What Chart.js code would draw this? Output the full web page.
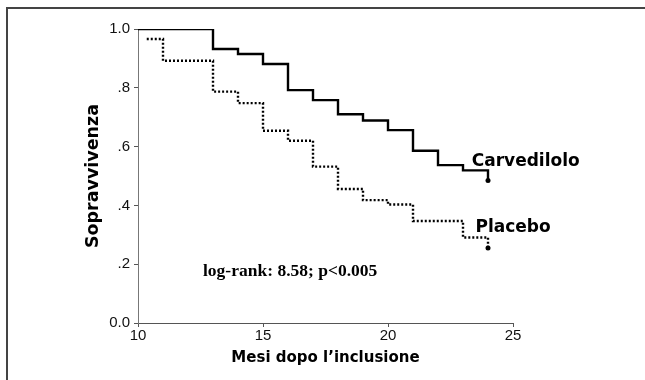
<!DOCTYPE html>
<html>
<head>
<meta charset="utf-8">
<script src="https://cdn.jsdelivr.net/npm/chart.js@4/dist/chart.umd.min.js"></script>
<style>
  html, body { margin: 0; padding: 0; background: #fff; overflow: hidden; }
  #wrap { position: relative; width: 645px; height: 380px; overflow: hidden; }
  #frame { position: absolute; left: 6px; top: 7px; width: 800px; height: 500px; border: 2px solid #444; }
  #grafico { position: absolute; left: 0; top: 0; }
</style>
</head>
<body>
<div id="wrap">
  <div id="frame"></div>
  <canvas id="grafico" width="645" height="380"></canvas>
</div>
<script>
// dati (Kaplan-Meier)
const mesiCarvedilolo = [10, 13, 14, 15, 16, 17, 18, 19, 20, 21, 22, 23, 24];
const sopravCarvedilolo = [1.0, 0.932, 0.915, 0.881, 0.792, 0.758, 0.71, 0.689, 0.656, 0.586, 0.537, 0.519, 0.485];

const mesiPlacebo = [10.35, 11, 13, 14, 15, 16, 17, 18, 19, 20, 21, 23, 24];
const sopravPlacebo = [0.966, 0.892, 0.787, 0.748, 0.654, 0.62, 0.532, 0.456, 0.418, 0.403, 0.347, 0.291, 0.255];

const tickY = [0, 0.2, 0.4, 0.6, 0.8, 1.0];
const etichetteY = ["0.0", ".2", ".4", ".6", ".8", "1.0"];
const tickX = [10, 15, 20, 25];

// testi sul grafico, ancorati ai valori degli assi
const annotazioni = [
    { testo: "Carvedilolo", x: 23.35, y: 0.535, font: "bold 17px 'DejaVu Sans'" },
    { testo: "Placebo", x: 23.5, y: 0.31, font: "bold 17px 'DejaVu Sans'" },
    { testo: "log-rank: 8.58; p<0.005", x: 12.6, y: 0.16, font: "bold 17.5px 'Liberation Serif'" }
];

function punti(xs, ys) {
    return xs.map((x, i) => ({ x: x, y: ys[i] }));
}

const pluginTesti = {
    id: "testi",
    afterDraw(chart) {
        const ctx = chart.ctx;
        const sx = chart.scales.x;
        const sy = chart.scales.y;
        ctx.save();
        ctx.fillStyle = "#000";
        ctx.textBaseline = "alphabetic";
        ctx.textAlign = "left";
        annotazioni.forEach(a => {
            ctx.font = a.font;
            ctx.fillText(a.testo, sx.getPixelForValue(a.x), sy.getPixelForValue(a.y));
        });
        ctx.restore();
    }
};

const ultimo = arr => (c => c.dataIndex === arr.length - 1 ? 2.5 : 0);

new Chart(document.getElementById("grafico"), {
    type: "line",
    data: {
        datasets: [
            {
                label: "Carvedilolo",
                data: punti(mesiCarvedilolo, sopravCarvedilolo),
                stepped: "before",
                borderColor: "#000",
                backgroundColor: "#000",
                borderWidth: 2.4,
                pointRadius: ultimo(mesiCarvedilolo),
                pointBorderWidth: 0
            },
            {
                label: "Placebo",
                data: punti(mesiPlacebo, sopravPlacebo),
                stepped: "before",
                borderColor: "#000",
                backgroundColor: "#000",
                borderWidth: 2.4,
                borderDash: [2, 2],
                pointRadius: ultimo(mesiPlacebo),
                pointBorderWidth: 0
            }
        ]
    },
    options: {
        responsive: false,
        animation: false,
        layout: { padding: { left: 0, right: 132, top: 29, bottom: 0 } },
        plugins: { legend: { display: false }, tooltip: { enabled: false } },
        scales: {
            x: {
                type: "linear",
                min: 10,
                max: 25,
                afterBuildTicks: s => { s.ticks = tickX.map(v => ({ value: v })); },
                afterFit: s => { s.height = 57; },
                grid: { drawOnChartArea: false, drawTicks: true, tickLength: 4, color: "#555" },
                border: { color: "#555", width: 1 },
                ticks: { color: "#111", font: { family: "'Liberation Sans'", size: 15 }, padding: 0 },
                title: {
                    display: true,
                    text: "Mesi dopo l\u2019inclusione",
                    color: "#000",
                    font: { family: "'DejaVu Sans'", weight: "bold", size: 15 },
                    padding: { top: 0, bottom: 13 }
                }
            },
            y: {
                min: 0,
                max: 1,
                afterBuildTicks: s => { s.ticks = tickY.map(v => ({ value: v })); },
                afterFit: s => { s.width = 138; },
                grid: { drawOnChartArea: false, drawTicks: true, tickLength: 4, color: "#555" },
                border: { color: "#777", width: 1 },
                ticks: {
                    color: "#111",
                    font: { family: "'Liberation Sans'", size: 15 },
                    padding: 4,
                    callback: v => etichetteY[tickY.indexOf(v)]
                },
                title: {
                    display: true,
                    text: "Sopravvivenza",
                    color: "#000",
                    font: { family: "'DejaVu Sans'", weight: "bold", size: 17.5 },
                    padding: { top: 83, bottom: 0 }
                }
            }
        }
    },
    plugins: [pluginTesti]
});
</script>
</body>
</html>
